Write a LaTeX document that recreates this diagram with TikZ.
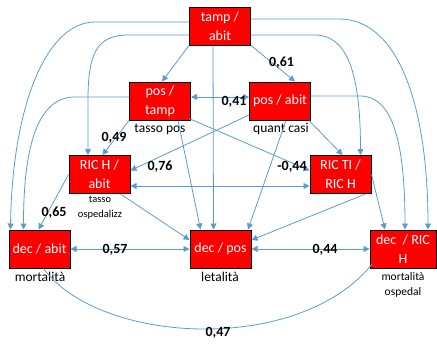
\documentclass[tikz,border=0pt]{standalone}
\usepackage{fontspec}
\setmainfont{Carlito}
\usetikzlibrary{arrows.meta}
\definecolor{linkblue}{RGB}{91,155,213}
\tikzset{>={Triangle[length=6pt,width=6pt]}}

\begin{document}
\begin{tikzpicture}[x=1pt,y=-1pt,
		box/.style={draw=black,line width=1pt,fill=red,text=white,minimum width=61pt,minimum height=38pt,inner sep=0pt,align=center,font=\fontsize{14}{19}\selectfont},
		note/.style={inner sep=0pt,align=center,font=\fontsize{13.5}{15}\selectfont},
		small/.style={inner sep=0pt,align=center,font=\fontsize{10.5}{15}\selectfont},
		val/.style={inner sep=0pt,font=\fontsize{14}{15}\selectfont\bfseries},
		link/.style={draw=linkblue,line width=0.8pt}]
		\useasboundingbox (0,0) rectangle (437,349);
		% Boxes
			\node [box] (tampabit) at (220,26) {tamp /\\abit};
			\node [box] (postamp) at (160,101) {pos /\\tamp};
			\node [box] (posabit) at (280,101) {pos / abit};
			\node [box] (RICH) at (99.5,174.5) {RIC H /\\abit};
			\node [box] (RICTI) at (340.5,174.5) {RIC TI /\\RIC H};
			\node [box] (decabit) at (39.5,249) {dec / abit};
			\node [box] (decpos) at (220.5,249) {dec / pos};
			\node [box,minimum width=66pt] (decRICH) at (403,249) {dec~ / RIC\\H};
			
			\node [note] (tassopos) at (160,129) {tasso pos};
			\node [note] (quantcasi) at (281,129) {quant casi};
			\node [small] (tassoosp) at (100,207.5) {tasso\\ospedalizz};
			\node [note] (mortalita) at (40,277) {mortalità};
			\node [note] (letalita) at (220,277) {letalità};
			\node [small,font=\fontsize{11.5}{15}\selectfont] (mortosp) at (403,284.5) {mortalità\\ospedal};
			
		% Links
			\draw [link,->] ([yshift=4pt]tampabit.west) -- (95,22) .. controls (45,22) and (12,110) .. ([xshift=2pt]decabit.north west);
			\draw [link,->] ([yshift=-9pt]tampabit.west) -- (128,35) .. controls (96,35) and (88,55) .. (88,100) -- ([xshift=-11.5pt]RICH.north);
			\draw [link,->] (tampabit.south west) -- ([xshift=2pt]postamp.north);
			\draw [link,->] ([xshift=-7pt]tampabit.south) -- ([xshift=-7pt]decpos.north);
			\draw [link,->] (tampabit.south east) -- ([xshift=15pt]posabit.north);
			\draw [link,->] ([yshift=-9pt]tampabit.east) -- (315,35) .. controls (348,35) and (360.5,75) .. ([xshift=20pt]RICTI.north);
			\draw [link,->] ([yshift=7pt]tampabit.east) -- (340,19) .. controls (400,20) and (428,110) .. ([xshift=25pt]decRICH.north);
			
			\draw [link,->] ([yshift=4pt]postamp.west) -- (75,97) .. controls (40,97) and (23.5,140) .. ([xshift=-16pt]decabit.north);
			\draw [link,->] (postamp.south west) -- ([xshift=3pt]RICH.north);
			\draw [link,->] ([xshift=18pt]postamp.south) -- ([xshift=-20pt]decpos.north);
			\draw [link,->] ([xshift=-2pt,yshift=2pt]postamp.south east) -- ([yshift=4pt]RICTI.west);
			\draw [link,<->] ([yshift=4pt]postamp.east) -- ([yshift=4pt]posabit.west);
			
			\draw [link,->] ([yshift=-14pt]posabit.west) -- ([yshift=4pt]RICH.east);
			\draw [link,->] ([xshift=6pt]posabit.south) -- ([xshift=27.5pt]decpos.north);
			\draw [link,->] ([xshift=-2pt]posabit.south east) -- ([xshift=2pt]RICTI.north);
			\draw [link,->] ([yshift=5pt]posabit.east) -- (360,96) .. controls (392,96) and (405,140) .. ([xshift=2pt]decRICH.north);
			
			\draw [link,<->] ([yshift=-11.5pt]RICH.east) -- ([yshift=-11.5pt]RICTI.west);
			\draw [link,->] (RICH.west) -- ([xshift=-1pt]decabit.north);
			\draw [link,->] ([xshift=-10pt]RICH.south east) -- ([yshift=9pt]decpos.west);
			\draw [link,->] ([xshift=-6pt]RICTI.south east) -- ([yshift=9pt]decpos.east);
			\draw [link,->] (RICTI.east) -- ([xshift=-18pt]decRICH.north);
			
			\draw [link,<->] (decabit.east) -- (decpos.west);
			\draw [link,<->] (decpos.east) -- (decRICH.west);
			\draw [link] ([xshift=4pt]decabit.south) .. controls (100,345) and (300,355) .. ([xshift=3pt,yshift=5pt]decRICH.south west);
			
		% Values
			\node [val] (v061) at (281.5,63) {0,61};
			\node [val] (v041) at (234,102) {0,41};
			\node [val] (v049) at (114,138) {0,49};
			\node [val] (v076) at (160,167) {0,76};
			\node [val] (v044a) at (292,167) {-0,44};
			\node [val] (v065) at (54,213) {0,65};
			\node [val] (v057) at (115,250) {0,57};
			\node [val] (v044b) at (325,250) {0,44};
			\node [val] (v047) at (218,333) {0,47};
			
		\end{tikzpicture}
\end{document}
